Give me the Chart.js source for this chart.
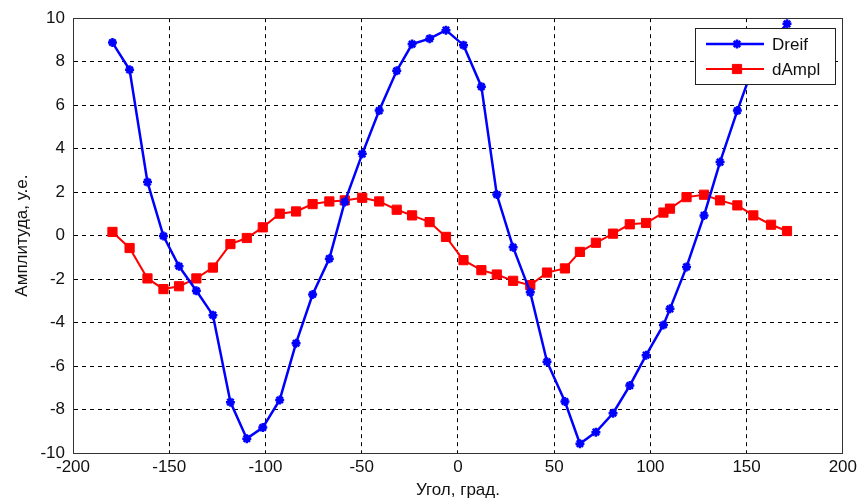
<!DOCTYPE html>
<html>
<head>
<meta charset="utf-8">
<script src="https://cdn.jsdelivr.net/npm/chart.js"></script>
<style>
   html, body { margin: 0; padding: 0; background: #fff; }
   #wrap { width: 861px; height: 498px; }
</style>
</head>
<body>
<div id="wrap"><canvas id="plot" width="861" height="498"></canvas></div>
<script>
// angle of each measurement, grad.
const angles = [-179.5, -170.6, -161.3, -153.0, -144.9, -135.9, -127.3, -118.2, -109.7, -101.4,
   -92.6, -84.1, -75.5, -66.8, -58.8, -49.7, -40.9, -31.8, -23.8, -14.7,
   -6.2, 2.9, 12.2, 20.2, 28.7, 37.6, 46.3, 55.6, 63.4, 71.7,
   80.6, 89.3, 97.8, 106.8, 110.2, 118.8, 127.9, 136.2, 145.2, 153.5,
   162.7, 171.0];

const dreif = [8.88, 7.63, 2.46, -0.02, -1.41, -2.54, -3.66, -7.66, -9.34, -8.83,
   -7.56, -4.95, -2.71, -1.06, 1.55, 3.76, 5.75, 7.58, 8.81, 9.06,
   9.45, 8.76, 6.85, 1.89, -0.54, -2.61, -5.80, -7.63, -9.57, -9.04,
   -8.17, -6.90, -5.50, -4.11, -3.37, -1.44, 0.93, 3.38, 5.75, 7.8,
   8.9, 9.74];

const dAmpl = [0.17, -0.57, -1.97, -2.46, -2.33, -1.97, -1.47, -0.39, -0.11, 0.38,
   1.01, 1.11, 1.45, 1.57, 1.62, 1.74, 1.57, 1.19, 0.93, 0.62,
   -0.06, -1.13, -1.59, -1.79, -2.08, -2.28, -1.70, -1.51, -0.75, -0.33,
   0.09, 0.52, 0.58, 1.06, 1.24, 1.77, 1.88, 1.62, 1.39, 0.93,
   0.50, 0.21];

const seriesNames = ['Dreif', 'dAmpl'];
const xTitle = 'Угол, град.';
const yTitle = 'Амплитуда, у.е.';

const FONT = 'Liberation Sans, Arial, sans-serif';

function toPoints(values) {
   return values.map((v, i) => ({ x: angles[i], y: v }));
}

// matlab style box around the axes
const axesBox = {
   id: 'axesBox',
   afterDatasetsDraw(chart) {
      const { ctx, chartArea: a } = chart;
      ctx.save();
      ctx.strokeStyle = '#333';
      ctx.lineWidth = 1;
      ctx.strokeRect(Math.round(a.left) + 0.5, Math.round(a.top) + 0.5,
         Math.round(a.right - a.left) - 1, Math.round(a.bottom - a.top));
      ctx.restore();
   }
};

// legend with a frame, top right inside the axes
const boxLegend = {
   id: 'boxLegend',
   afterDraw(chart) {
      const { ctx, chartArea } = chart;
      const w = 140, h = 56;
      const x0 = Math.round(chartArea.right) - 8 - w;
      const y0 = Math.round(chartArea.top) + 10;
      ctx.save();
      ctx.fillStyle = '#fff';
      ctx.fillRect(x0, y0, w, h);
      ctx.strokeStyle = '#222';
      ctx.lineWidth = 1;
      ctx.strokeRect(x0 + 0.5, y0 + 0.5, w, h);

      chart.data.datasets.forEach((ds, i) => {
         const y = y0 + 16 + i * 25;
         ctx.strokeStyle = ds.borderColor;
         ctx.fillStyle = ds.backgroundColor;
         ctx.lineWidth = ds.borderWidth;
         ctx.beginPath();
         ctx.moveTo(x0 + 11, y);
         ctx.lineTo(x0 + 69, y);
         ctx.stroke();

         ctx.lineWidth = ds.pointBorderWidth;
         if (Chart.helpers && Chart.helpers.drawPoint) {
            Chart.helpers.drawPoint(ctx, {
               pointStyle: ds.pointStyle,
               radius: ds.pointRadius,
               borderWidth: ds.pointBorderWidth,
               rotation: 0
            }, x0 + 42, y);
         } else {
            ctx.fillRect(x0 + 38, y - 4, 8, 8);
         }

         ctx.fillStyle = '#111';
         ctx.font = '17px ' + FONT;
         ctx.textBaseline = 'middle';
         ctx.textAlign = 'left';
         ctx.fillText(ds.label, x0 + 77, y + 1);
      });
      ctx.restore();
   }
};

const gridStyle = {
   color: '#000',
   lineWidth: 1,
   drawTicks: false
};

const ctx = document.getElementById('plot').getContext('2d');
const chart = new Chart(ctx, {
   type: 'scatter',
   data: {
      datasets: [
         {
            label: seriesNames[0],
            data: toPoints(dreif),
            showLine: true,
            borderColor: '#0000ff',
            backgroundColor: '#0000ff',
            borderWidth: 2.5,
            pointStyle: 'star',
            pointRadius: 4.5,
            pointBorderWidth: 2.5,
            pointHoverRadius: 4.5
         },
         {
            label: seriesNames[1],
            data: toPoints(dAmpl),
            showLine: true,
            borderColor: '#ff0000',
            backgroundColor: '#ff0000',
            borderWidth: 2,
            pointStyle: 'rect',
            pointRadius: 6.5,
            pointBorderWidth: 1,
            pointHoverRadius: 6.5
         }
      ]
   },
   options: {
      responsive: false,
      animation: false,
      events: [],
      layout: {
         padding: { left: 0, right: 17, top: 17, bottom: 0 }
      },
      plugins: {
         legend: { display: false },
         tooltip: { enabled: false }
      },
      scales: {
         x: {
            type: 'linear',
            min: -200,
            max: 200,
            afterFit: s => { s.height = 45; },
            ticks: {
               stepSize: 50,
               padding: 4,
               color: '#111',
               font: { family: FONT, size: 17 }
            },
            grid: Object.assign({}, gridStyle),
            border: { display: true, color: '#333', width: 1, dash: [4, 4] },
            title: {
               display: true,
               text: xTitle,
               color: '#111',
               font: { family: FONT, size: 17 },
               padding: { top: 0, bottom: -3 }
            }
         },
         y: {
            min: -10,
            max: 10,
            afterFit: s => { s.width = 73; },
            ticks: {
               stepSize: 2,
               padding: 8,
               color: '#111',
               font: { family: FONT, size: 17 }
            },
            grid: Object.assign({}, gridStyle),
            border: { display: true, color: '#333', width: 1, dash: [4, 4] },
            title: {
               display: true,
               text: yTitle,
               color: '#111',
               font: { family: FONT, size: 17 },
               padding: { top: 12, bottom: 0 }
            }
         }
      }
   },
   plugins: [axesBox, boxLegend]
});
</script>
</body>
</html>
